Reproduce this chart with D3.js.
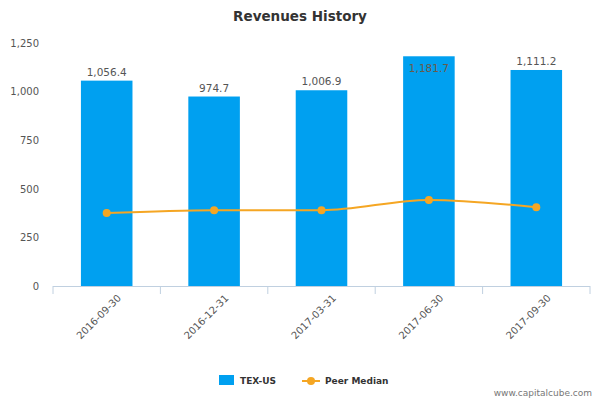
<!DOCTYPE html><html><head><meta charset="utf-8"><script src="https://cdn.jsdelivr.net/npm/d3@7"></script>
<style>body{margin:0;background:#fff}text{font-family:"DejaVu Sans",sans-serif}</style></head><body><svg id="c" width="600" height="400"></svg>
<script>
const categories=["2016-09-30","2016-12-31","2017-03-31","2017-06-30","2017-09-30"];
const revenues=[1056.4,974.7,1006.9,1181.7,1111.2];
const peerMedian=[375,390,390,443,405];
const yTicks=[0,250,500,750,1000,1250];
const svg=d3.select("#c");
const L=53,R=590,T=43,B=286;
const x=d3.scaleBand().domain(categories).range([L,R]).paddingInner(0.52).paddingOuter(0.26);
const xp=d3.scalePoint().domain(categories).range([L,R]).padding(0.5);
const y=d3.scaleLinear().domain([0,1250]).range([B,T]);
svg.append("text").attr("x",300).attr("y",21).attr("text-anchor","middle").attr("font-size",13.5).attr("font-weight","bold").attr("fill","#333").text("Revenues History");
const ya=svg.append("g").attr("transform",`translate(${L},0)`).call(d3.axisLeft(y).tickValues(yTicks).tickSize(0).tickPadding(14));
ya.select(".domain").remove();ya.selectAll("text").attr("font-size",10).attr("fill","#555").attr("font-family","DejaVu Sans");
const xa=svg.append("g").attr("transform",`translate(0,${B})`).call(d3.axisBottom(xp).tickSize(0).tickPadding(8));
xa.select(".domain").remove();
svg.append("line").attr("x1",L).attr("x2",R).attr("y1",B+0.5).attr("y2",B+0.5).attr("stroke","#c0d0e0");
const step=(R-L)/categories.length;
d3.range(categories.length+1).forEach(i=>svg.append("line").attr("x1",L+i*step).attr("x2",L+i*step).attr("y1",B).attr("y2",B+8).attr("stroke","#c0d0e0"));
xa.selectAll("text").attr("font-size",10).attr("fill","#555").attr("font-family","DejaVu Sans").attr("text-anchor","end").attr("transform","translate(4,2) rotate(-45)");
svg.selectAll(".bar").data(revenues).enter().append("rect").attr("x",(d,i)=>x(categories[i])).attr("width",x.bandwidth()).attr("y",d=>y(d)).attr("height",d=>B-y(d)).attr("fill","#00a0f0");
svg.selectAll(".lbl").data(revenues).enter().append("text").attr("x",(d,i)=>xp(categories[i])).attr("y",(d,i)=>i==3?y(d)+16:y(d)-5).attr("text-anchor","middle").attr("font-size",10.5).attr("fill",(d,i)=>i==3?"#6b5a4a":"#555").text(d=>d3.format(",.1f")(d));
const line=d3.line().x((d,i)=>xp(categories[i])).y(d=>y(d)).curve(d3.curveMonotoneX);
svg.append("path").datum(peerMedian).attr("d",line).attr("fill","none").attr("stroke","#f5a623").attr("stroke-width",2);
svg.selectAll(".pt").data(peerMedian).enter().append("circle").attr("cx",(d,i)=>xp(categories[i])).attr("cy",d=>y(d)).attr("r",4).attr("fill","#f5a623");
svg.append("rect").attr("x",219).attr("y",375).attr("width",15).attr("height",10).attr("fill","#00a0f0");
svg.append("text").attr("x",240).attr("y",384).attr("font-size",9).attr("font-weight","bold").attr("fill","#333").text("TEX-US");
svg.append("line").attr("x1",302).attr("x2",320).attr("y1",381).attr("y2",381).attr("stroke","#f5a623").attr("stroke-width",2);
svg.append("circle").attr("cx",311).attr("cy",381).attr("r",4).attr("fill","#f5a623");
svg.append("text").attr("x",325).attr("y",384).attr("font-size",9).attr("font-weight","bold").attr("fill","#333").text("Peer Median");
svg.append("text").attr("x",592).attr("y",396).attr("text-anchor","end").attr("font-size",9).attr("fill","#777").text("www.capitalcube.com");
</script></body></html>
